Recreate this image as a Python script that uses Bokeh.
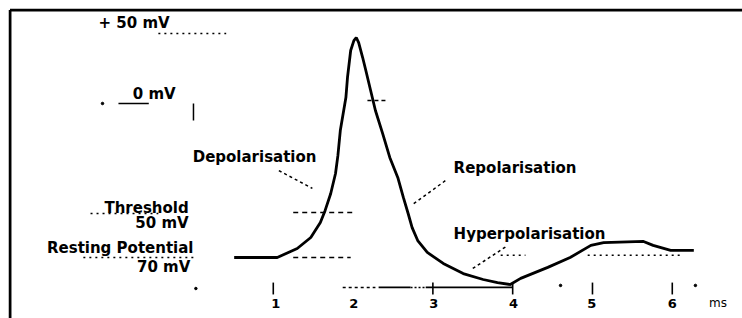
from bokeh.plotting import figure
from bokeh.embed import file_html
from bokeh.resources import INLINE
from bokeh.core.properties import value

# ---- data (time in ms, membrane potential in mV) ----
t_ms = [0.51, 1.05, 1.30, 1.47, 1.59, 1.65, 1.72, 1.78, 1.81, 1.84, 1.91, 1.93,
        1.97, 2.01, 2.04, 2.07, 2.12, 2.16, 2.22, 2.28, 2.37, 2.46, 2.56, 2.63,
        2.69, 2.74, 2.81, 2.93, 3.13, 3.38, 3.63, 3.81, 3.97, 4.10, 4.44, 4.72,
        4.98, 5.14, 5.64, 5.76, 5.98, 6.27]
v_mv = [-70.0, -70.0, -65.9, -60.9, -54.1, -48.6, -40.9, -31.8, -23.6, -12.3, 2.7, 11.8,
        24.1, 28.6, 30.0, 27.7, 20.9, 15.0, 5.9, -3.2, -13.6, -24.5, -33.6, -42.7,
        -50.0, -56.4, -62.3, -67.7, -72.7, -77.3, -80.0, -81.4, -82.3, -79.5, -74.5, -70.0,
        -64.5, -63.2, -62.7, -64.5, -66.8, -66.8]

tick_ms = [1, 3, 4, 5, 6]
tick_labels = ["1", "2", "3", "4", "5", "6"]
tick_label_ms = [1.03, 2.01, 3.01, 4.01, 4.99, 6.00]
unit_label = "ms"

# reference levels (mV) with their extents (ms)
ref_levels = [31.8, -49.5, -70.0, -69.0, -69.0, 1.4]
ref_x0 = [-0.44, 1.25, 1.25, 4.94, 3.85, 2.18]
ref_x1 = [0.41, 1.99, 1.97, 6.10, 4.16, 2.41]
ref_dash = ["2 4", "5 4", "5 4", "2 4", "2 4", "4 3"]

# labels
label_text = ["+ 50 mV", "0 mV", "Depolarisation", "Repolarisation", "Hyperpolarisation"]
label_ms = [-1.19, -0.76, -0.01, 3.26, 3.26]
label_mv = [36.4, 4.1, -24.5, -29.5, -59.5]

right_text = ["Threshold", "50 mV", "Resting Potential", "70 mV"]
right_ms = [-0.06, -0.06, 0.0, -0.04]
right_mv = [-47.7, -54.1, -65.9, -74.5]

# leaders (ms, mV)
lead_x0 = [1.07, 2.76, 3.50]
lead_y0 = [-30.5, -45.5, -75.0]
lead_x1 = [1.49, 3.16, 3.94]
lead_y1 = [-38.6, -35.0, -64.5]

# label underlines
under_x0 = [-1.29, -1.38]
under_x1 = [-0.44, 0.03]
under_y = [-50.0, -70.0]

axis_mv = -83.6

p = figure(width=742, height=318, x_range=(-2.318, 6.880), y_range=(-97.73, 43.18),
           toolbar_location=None, output_backend="svg",
           min_border_left=8, min_border_top=8, min_border_right=0, min_border_bottom=0)
p.axis.visible = False
p.grid.visible = False
p.outline_line_color = None
p.background_fill_color = "white"

# frame (left and top)
p.segment(x0=[-2.2995], y0=[-97.73], x1=[-2.2995], y1=[42.5], line_color="black", line_width=3)
p.segment(x0=[-2.2995], y0=[42.5], x1=[6.880], y1=[42.5], line_color="black", line_width=3)

# action potential
p.line(t_ms, v_mv, line_color="black", line_width=2.8)

# reference dashed levels
for y, a, b, d in zip(ref_levels, ref_x0, ref_x1, ref_dash):
    p.line([a, b], [y, y], line_color="black", line_width=1.5, line_dash=d)

# 0 mV underline
p.line([-0.94, -0.56], [0, 0], line_color="black", line_width=1.6)
p.line([0.0, 0.0], [0, -7.7], line_color="black", line_width=1.5)

# label underlines
p.segment(x0=under_x0, y0=under_y, x1=under_x1, y1=under_y, line_color="black",
          line_width=1.5, line_dash="2 4")

# leaders
p.segment(x0=lead_x0, y0=lead_y0, x1=lead_x1, y1=lead_y1, line_color="black",
          line_width=1.5, line_dash="3 3")

# time axis
p.line([1.87, 2.28], [axis_mv, axis_mv], line_color="black", line_width=1.5, line_dash="3 3")
p.line([2.32, 2.72], [axis_mv, axis_mv], line_color="black", line_width=1.8)
p.line([2.72, 2.91], [axis_mv, axis_mv], line_color="black", line_width=1.5, line_dash="2 2")
p.line([2.91, 4.0], [axis_mv, axis_mv], line_color="black", line_width=1.8)
p.segment(x0=tick_ms, y0=[-81.4] * len(tick_ms), x1=tick_ms, y1=[-86.8] * len(tick_ms),
          line_color="black", line_width=1.6)
p.scatter(x=[-1.14, 0.03, 4.60, 6.29], y=[0, -84.1, -82.7, -82.7], size=2.5,
          color="black")

p.text(x=tick_label_ms, y=[-90.9] * 6, text=tick_labels, text_align="center",
       text_baseline="middle", text_font=value("DejaVu Sans"), text_font_style="bold",
       text_font_size="13px", text_color="black")
p.text(x=[6.46], y=[-90.9], text=[unit_label], text_align="left", text_baseline="middle",
       text_font=value("DejaVu Sans"), text_font_size="12px", text_color="black")

p.text(x=label_ms, y=label_mv, text=label_text, text_align="left", text_baseline="middle",
       text_font=value("DejaVu Sans"), text_font_style="bold", text_font_size="15px",
       text_color="black")
p.text(x=right_ms, y=right_mv, text=right_text, text_align="right", text_baseline="middle",
       text_font=value("DejaVu Sans"), text_font_style="bold", text_font_size="15px",
       text_color="black")

open("out.html", "w").write(file_html(p, INLINE))
